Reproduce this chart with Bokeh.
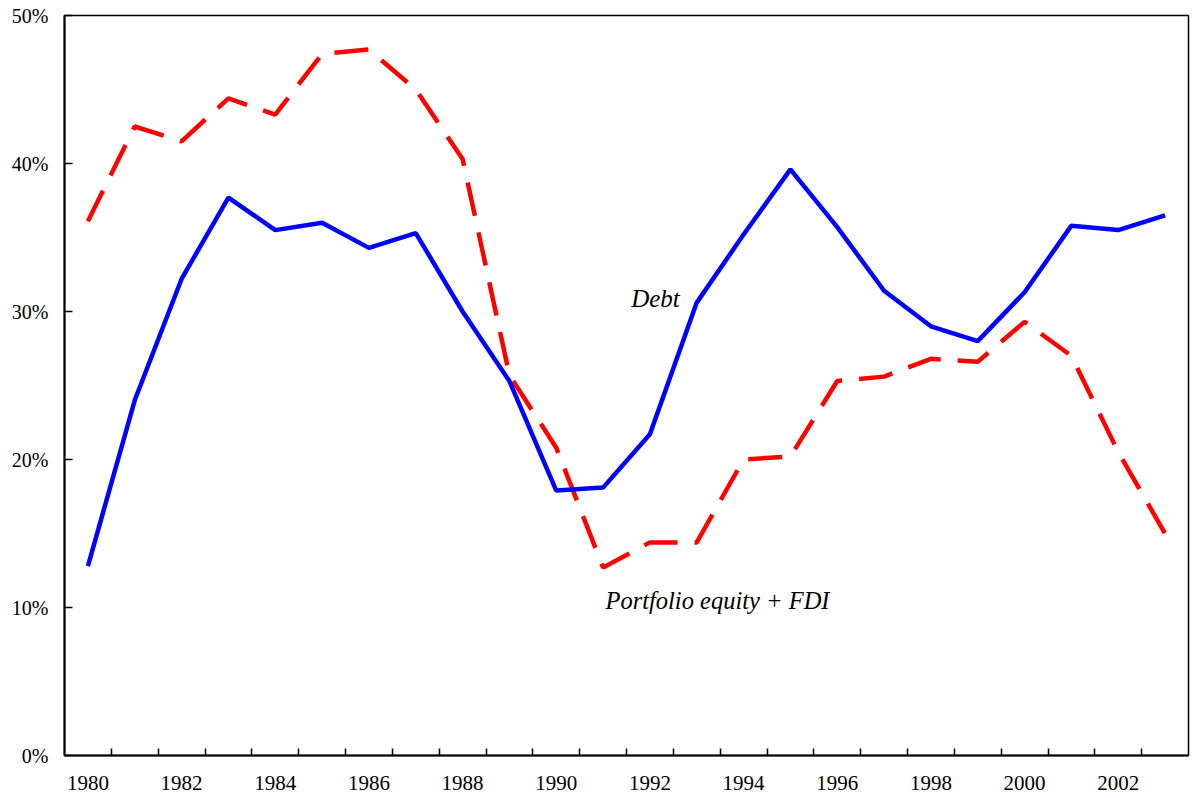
from bokeh.plotting import figure
from bokeh.models import FixedTicker, Range1d, PrintfTickFormatter, ColumnDataSource
from bokeh.core.properties import value
from bokeh.embed import file_html
from bokeh.resources import INLINE

years = list(range(1980, 2004))
debt = [12.8, 24.0, 32.2, 37.7, 35.5, 36.0, 34.3, 35.3, 30.0, 25.3, 17.9, 18.1,
        21.7, 30.6, 35.2, 39.6, 35.7, 31.4, 29.0, 28.0, 31.3, 35.8, 35.5, 36.5]
equity_fdi = [36.1, 42.5, 41.5, 44.4, 43.3, 47.4, 47.7, 45.0, 40.3, 25.7, 20.8, 12.7,
              14.4, 14.4, 20.0, 20.2, 25.3, 25.6, 26.8, 26.6, 29.3, 27.0, 20.5, 15.0]
label_years = list(range(1980, 2004, 2))
y_ticks = [0, 10, 20, 30, 40, 50]

FONT = "Liberation Serif"

p = figure(width=1192, height=797, output_backend="svg", toolbar_location=None,
           x_range=Range1d(1979.5, 2003.5), y_range=Range1d(0, 50),
           min_border_left=64, min_border_right=4, min_border_top=15, min_border_bottom=42)
p.background_fill_color = "white"
p.border_fill_color = "white"
p.outline_line_color = "black"
p.outline_line_width = 1.5
p.grid.visible = False

src = ColumnDataSource(dict(x=years, debt=debt, eq=equity_fdi))
p.line("x", "eq", source=src, line_color="#FF0000", line_width=4.5, line_dash="34 17")
p.line("x", "debt", source=src, line_color="#0000FF", line_width=4.5)

p.text(x=[1991.6], y=[30.9], text=["Debt"], text_font=value(FONT), text_font_style="italic",
       text_font_size="25px", text_align="left", text_baseline="middle", text_color="black")
p.text(x=[1991.05], y=[10.5], text=["Portfolio equity + FDI"], text_font=value(FONT),
       text_font_style="italic", text_font_size="24.5px", text_align="left",
       text_baseline="middle", text_color="black")

xa = p.xaxis[0]
xa.ticker = FixedTicker(ticks=label_years, minor_ticks=[y + 0.5 for y in years[:-1]])
xa.major_tick_in = 0
xa.major_tick_out = 0
xa.minor_tick_in = 7
xa.minor_tick_out = 0
xa.minor_tick_line_color = "black"
xa.minor_tick_line_width = 1.5
xa.axis_line_width = 2
xa.axis_line_color = "black"
xa.major_label_text_font = FONT
xa.major_label_text_font_size = "21px"
xa.major_label_text_color = "black"
xa.major_label_standoff = 20

ya = p.yaxis[0]
ya.ticker = FixedTicker(ticks=y_ticks, minor_ticks=[])
ya.formatter = PrintfTickFormatter(format="%d%%")
ya.major_tick_in = 8
ya.major_tick_out = 0
ya.major_tick_line_width = 1.5
ya.major_tick_line_color = "black"
ya.axis_line_width = 2
ya.axis_line_color = "black"
ya.major_label_text_font = FONT
ya.major_label_text_font_size = "20px"
ya.major_label_text_color = "black"
ya.major_label_standoff = 16

open("out.html", "w").write(file_html(p, INLINE))
